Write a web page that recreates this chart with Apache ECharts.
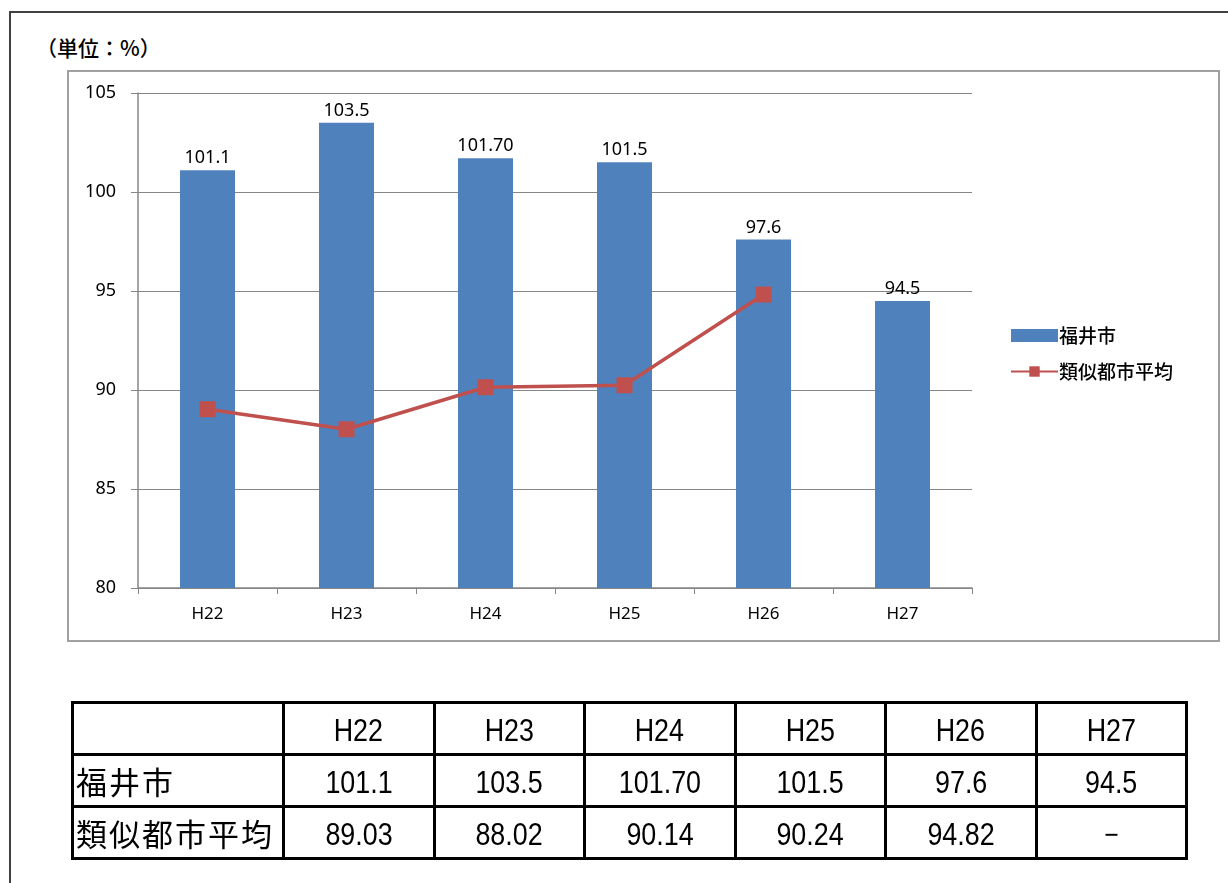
<!DOCTYPE html>
<html><head><meta charset="utf-8">
<script src="https://cdn.jsdelivr.net/npm/echarts@6/dist/echarts.min.js"></script>
<style>
html,body{margin:0;padding:0;background:#fff;width:1228px;height:883px;overflow:hidden;}
#outer{position:absolute;left:9px;top:11px;width:1400px;height:1000px;border-left:2px solid #404040;border-top:2px solid #404040;}
#frame{position:absolute;left:67px;top:70px;width:1149px;height:568px;border:2px solid #a0a0a0;}
#chart{position:absolute;left:0;top:0;width:1228px;height:883px;}
#unit{position:absolute;left:36px;top:32px;font:500 21px "Noto Sans CJK JP";color:#000;}
#tbl{position:absolute;left:71px;top:701px;border-collapse:collapse;table-layout:fixed;}
#tbl td{border:3px solid #000;height:52px;padding:0;padding-top:3px;box-sizing:border-box;text-align:center;font:32px "Liberation Sans";color:#000;width:150.5px;overflow:hidden;white-space:nowrap;}
#tbl td span{display:inline-block;transform:scaleX(0.84);}
#tbl td.h{width:211px;text-align:left;font:31px "Noto Sans CJK JP";letter-spacing:2px;padding-left:2px;padding-top:0;}
</style></head>
<body>
<div id="outer"></div>
<div id="frame"></div>
<div id="unit">（単位：%）</div>
<div id="chart"></div>
<table id="tbl"></table>
<script>
const categories = ['H22','H23','H24','H25','H26','H27'];
const fukuiValues = [101.1, 103.5, 101.7, 101.5, 97.6, 94.5];
const fukuiLabels = ['101.1','103.5','101.70','101.5','97.6','94.5'];
const avgValues = [89.03, 88.02, 90.14, 90.24, 94.82, null];
const avgLabels = ['89.03','88.02','90.14','90.24','94.82','－'];
const seriesNames = ['福井市','類似都市平均'];

// table
const tbl = document.getElementById('tbl');
function row(head, cells){
  const tr = document.createElement('tr');
  const th = document.createElement('td'); th.className='h'; th.textContent=head; tr.appendChild(th);
  cells.forEach(c=>{const td=document.createElement('td'); const s=document.createElement('span'); s.textContent=c; td.appendChild(s); tr.appendChild(td);});
  tbl.appendChild(tr);
}
row('', categories);
row(seriesNames[0], fukuiLabels);
row(seriesNames[1], avgLabels);

const chart = echarts.init(document.getElementById('chart'));
chart.setOption({
  backgroundColor:'transparent',
  animation:false,
  grid:{left:138, right:256, top:93, bottom:295},
  legend:{
    orient:'vertical', left:1005, top:321, itemWidth:47, itemHeight:13, itemGap:17,
    itemStyle:{borderWidth:0},
    textStyle:{fontSize:19, color:'#000', fontWeight:500, fontFamily:'Noto Sans CJK JP', padding:[0,0,0,-4]},
    data:[{name:seriesNames[0], icon:'rect'},{name:seriesNames[1]}]
  },
  xAxis:{
    type:'category', data:categories,
    axisLine:{lineStyle:{color:'#868686', width:1.5}},
    axisTick:{show:true, length:6, lineStyle:{color:'#868686'}},
    axisLabel:{color:'#000', fontSize:17, margin:18, fontFamily:'Noto Sans'}
  },
  yAxis:{
    type:'value', min:80, max:105, interval:5,
    axisLine:{show:true, lineStyle:{color:'#868686', width:1.5}},
    axisTick:{show:true, length:7, lineStyle:{color:'#868686'}},
    splitLine:{lineStyle:{color:'#868686', width:1}},
    axisLabel:{color:'#000', fontSize:18, margin:22, fontFamily:'Noto Sans'}
  },
  series:[
    {name:seriesNames[0], type:'bar', data:fukuiValues, barWidth:55,
     itemStyle:{color:'#4F81BD'},
     label:{show:true, position:'top', distance:3, color:'#000', fontSize:18, fontFamily:'Noto Sans',
       formatter:p=>fukuiLabels[p.dataIndex]}},
    {name:seriesNames[1], type:'line', data:avgValues, symbol:'rect', symbolSize:16,
     lineStyle:{color:'#C0504D', width:3.5}, itemStyle:{color:'#C0504D'}}
  ]
});
</script>
</body></html>
